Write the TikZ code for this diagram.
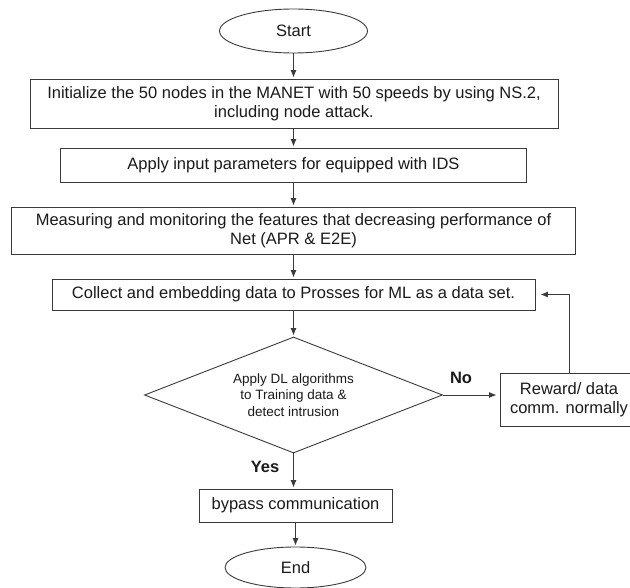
\documentclass[tikz,border=0pt]{standalone}
\usepackage{fontspec}
\setmainfont{Liberation Sans}
\usetikzlibrary{shapes.geometric,arrows.meta}
\definecolor{linec}{HTML}{3A3A3A}
\definecolor{textc}{HTML}{1A1A1A}
\tikzset{
  base/.style={draw=linec, line width=0.9pt, text=textc, inner sep=0pt,
    font=\fontsize{16.5}{19}\selectfont, align=center},
  procbox/.style={base, rectangle},
  termnode/.style={base, ellipse},
  decnode/.style={base, diamond, aspect=2.57, font=\fontsize{13.5}{16.5}\selectfont},
  arr/.style={draw=linec, line width=0.9pt, -{Latex[length=7.5pt,width=6pt]}},
  lbl/.style={text=textc, font=\fontsize{16.5}{19}\selectfont\bfseries, inner sep=0pt}
}
\begin{document}
\begin{tikzpicture}[x=1pt,y=-1pt]
\useasboundingbox (0,0) rectangle (630,588);
\clip (0,0) rectangle (630,588);
\node[termnode, minimum width=148pt, minimum height=44pt] (start) at (293.5,31) {Start};
\node[procbox, minimum width=528pt, minimum height=49pt] (b1) at (294,103.5)
  {Initialize the 50 nodes in the MANET with 50 speeds by using NS.2,\\including node attack.};
\node[procbox, minimum width=466pt, minimum height=34pt] (b2) at (293.5,165)
  {Apply input parameters for equipped with IDS};
\node[procbox, minimum width=564pt, minimum height=47pt] (b3) at (293.5,230.5)
  {Measuring and monitoring the features that decreasing performance of\\Net (APR \& E2E)};
\node[procbox, minimum width=483pt, minimum height=31pt] (b4) at (293.5,294.5)
  {Collect and embedding data to Prosses for ML as a data set.};
\node[decnode, minimum width=298pt, minimum height=116pt] (dec) at (293.5,395)
  {Apply DL algorithms\\to Training data \&\\detect intrusion};
\node[procbox, minimum width=138pt, minimum height=53pt] (rew) at (569,399.5)
  {Reward/ data\\comm. normally};
\node[procbox, minimum width=193pt, minimum height=33pt] (byp) at (295.5,505.5)
  {bypass communication};
\node[termnode, minimum width=141pt, minimum height=41pt] (end) at (295.5,567.5) {End};
\node[lbl] (no) at (461,378) {No};
\node[lbl] (yes) at (265,467) {Yes};
\draw[arr, shorten >=1pt] (start.south) -- (start.south |- b1.north);
\draw[arr, shorten >=1pt] (b2.north |- b1.south) -- (b2.north);
\draw[arr, shorten >=1pt] (b2.south) -- (b3.north);
\draw[arr, shorten >=1pt] (b3.south) -- (b4.north);
\draw[arr, shorten >=1pt] (b4.south) -- (dec.north);
\draw[arr, shorten >=1pt] (dec.south) -- (dec.south |- byp.north);
\draw[arr, shorten >=1pt] (byp.south) -- (end.north);
\draw[arr, shorten >=3pt] (dec.east) -- (dec.east -| rew.west);
\draw[arr, shorten >=5pt] (rew.north) |- (b4.east);
\end{tikzpicture}
\end{document}
